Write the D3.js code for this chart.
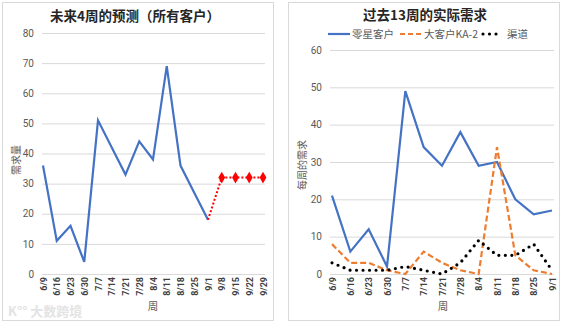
<!DOCTYPE html>
<html><head><meta charset="utf-8">
<script src="https://cdn.jsdelivr.net/npm/d3@7"></script>
<style>
body{margin:0;background:#fff;}
svg{font-family:"Noto Sans CJK SC","Noto Sans",sans-serif;}
</style></head><body>
<script>
const weeksLeft=["6/9","6/16","6/23","6/30","7/7","7/14","7/21","7/28","8/4","8/11","8/18","8/25","9/1","9/8","9/15","9/22","9/29"];
const actualAll=[36,11,16,4,51,42,33,44,38,69,36,27,18];
const forecastWeeks=["9/1","9/8","9/15","9/22","9/29"];
const forecastVals=[18,32,32,32,32];
const leftTicks=[0,10,20,30,40,50,60,70,80];

const weeksRight=["6/9","6/16","6/23","6/30","7/7","7/14","7/21","7/28","8/4","8/11","8/18","8/25","9/1"];
const retail=[21,6,12,2,49,34,29,38,29,30,20,16,17];
const ka2=[8,3,3,1,0,6,3,1,0,34,5,1,0];
const channel=[3,1,1,1,2,1,0,3,9,5,5,8,1];
const rightTicks=[0,10,20,30,40,50,60];

const W=563,H=323;
const svg=d3.select("body").append("svg").attr("width",W).attr("height",H);

svg.append("rect").attr("x",2.5).attr("y",2.5).attr("width",271).attr("height",318).attr("fill","#fff").attr("stroke","#d9d9d9");
svg.append("rect").attr("x",288.5).attr("y",2.5).attr("width",271).attr("height",318).attr("fill","#fff").attr("stroke","#d9d9d9");

function panel(o){
  const g=svg.append("g");
  const x=d3.scalePoint().domain(o.cats).range([o.x0,o.x1]);
  const y=d3.scaleLinear().domain([0,o.ymax]).range([o.y0,o.y1]);
  g.selectAll(".grid").data(o.ticks).join("line")
    .attr("x1",o.gx0).attr("x2",o.gx1).attr("y1",d=>y(d)+0.5).attr("y2",d=>y(d)+0.5)
    .attr("stroke","#d9d9d9").attr("stroke-width",1);
  const ya=d3.axisLeft(y).tickValues(o.ticks).tickSize(0).tickPadding(0);
  const yg=g.append("g").attr("transform",`translate(${o.gx0-8},0)`).call(ya);
  yg.select(".domain").remove();
  yg.selectAll("text").attr("fill","#595959").style("font-size","10px").style("font-family","Roboto, sans-serif");
  const xa=d3.axisBottom(x).tickSize(0).tickPadding(0);
  const xg=g.append("g").attr("transform",`translate(0,${o.y0+3})`).call(xa);
  xg.select(".domain").remove();
  xg.selectAll("text").attr("transform","rotate(-90)").attr("text-anchor","end").attr("dx","0").attr("dy","0.35em").attr("x",0).attr("y",0)
    .attr("fill","#404040").style("font-size","9px").style("font-weight","bold").style("font-family","Roboto, sans-serif");
  g.append("text").attr("x",o.xtx).attr("y",310).attr("text-anchor","middle").attr("fill","#595959").style("font-size","10.5px").text("周");
  g.append("text").attr("transform",`translate(${o.ytx},${o.yty}) rotate(-90)`).attr("text-anchor","middle").attr("dy","0.35em").attr("fill","#595959").style("font-size","10px").text(o.ylabel);
  g.append("text").attr("x",o.tx).attr("y",o.ty).attr("text-anchor","middle").attr("fill","#262626").style("font-size","13.5px").style("font-weight","bold").text(o.title);
  return {g,x,y};
}

const L=panel({cats:weeksLeft,x0:43,x1:263,y0:274,y1:33,ymax:80,ticks:leftTicks,gx0:42,gx1:265,
  xtx:153,ytx:16,yty:160,ylabel:"需求量",tx:135,ty:21,title:"未来4周的预测（所有客户）"});
L.g.append("path").datum(actualAll).attr("fill","none").attr("stroke","#4472C4").attr("stroke-width",2.2).attr("stroke-linejoin","miter")
  .attr("d",d3.line().x((d,i)=>L.x(weeksLeft[i])).y(d=>L.y(d)));
L.g.append("path").datum(forecastVals).attr("fill","none").attr("stroke","#FF0000").attr("stroke-width",2).attr("stroke-dasharray","2,2")
  .attr("d",d3.line().x((d,i)=>L.x(forecastWeeks[i])).y(d=>L.y(d)));
L.g.selectAll(".mk").data(forecastVals.slice(1)).join("path")
  .attr("transform",(d,i)=>`translate(${L.x(forecastWeeks[i+1])},${L.y(d)})`)
  .attr("d",d3.symbol().type(d3.symbolDiamond).size(40)).attr("fill","#FF0000");

const R=panel({cats:weeksRight,x0:332,x1:552,y0:274,y1:50,ymax:60,ticks:rightTicks,gx0:330,gx1:554,
  xtx:443,ytx:302,yty:165,ylabel:"每周的需求",tx:425,ty:20,title:"过去13周的实际需求"});
const rl=d3.line().x((d,i)=>R.x(weeksRight[i])).y(d=>R.y(d));
R.g.append("path").datum(retail).attr("fill","none").attr("stroke","#4472C4").attr("stroke-width",2.2).attr("d",rl);
R.g.append("path").datum(ka2).attr("fill","none").attr("stroke","#ED7D31").attr("stroke-width",2.2).attr("stroke-dasharray","6,3").attr("d",rl);
R.g.append("path").datum(channel).attr("fill","none").attr("stroke","#000").attr("stroke-width",3.2).attr("stroke-linecap","round").attr("stroke-dasharray","0,6.5").attr("d",rl);

const lg=svg.append("g").style("font-size","10.5px").attr("fill","#595959");
lg.append("line").attr("x1",328).attr("x2",350).attr("y1",34).attr("y2",34).attr("stroke","#4472C4").attr("stroke-width",2.2);
lg.append("text").attr("x",352).attr("y",34).attr("dy","0.35em").text("零星客户");
lg.append("line").attr("x1",400).attr("x2",421).attr("y1",34).attr("y2",34).attr("stroke","#ED7D31").attr("stroke-width",2.2).attr("stroke-dasharray","5,3");
lg.append("text").attr("x",424).attr("y",34).attr("dy","0.35em").text("大客户KA-2");
lg.append("line").attr("x1",483).attr("x2",500).attr("y1",34).attr("y2",34).attr("stroke","#000").attr("stroke-width",3.2).attr("stroke-linecap","round").attr("stroke-dasharray","0,6.5");
lg.append("text").attr("x",507).attr("y",34).attr("dy","0.35em").text("渠道");

svg.append("text").attr("x",8).attr("y",316).attr("fill","#e3e3e3").style("font-size","13px").style("font-weight","bold").text("K°° 大数跨境");
</script>
</body></html>
